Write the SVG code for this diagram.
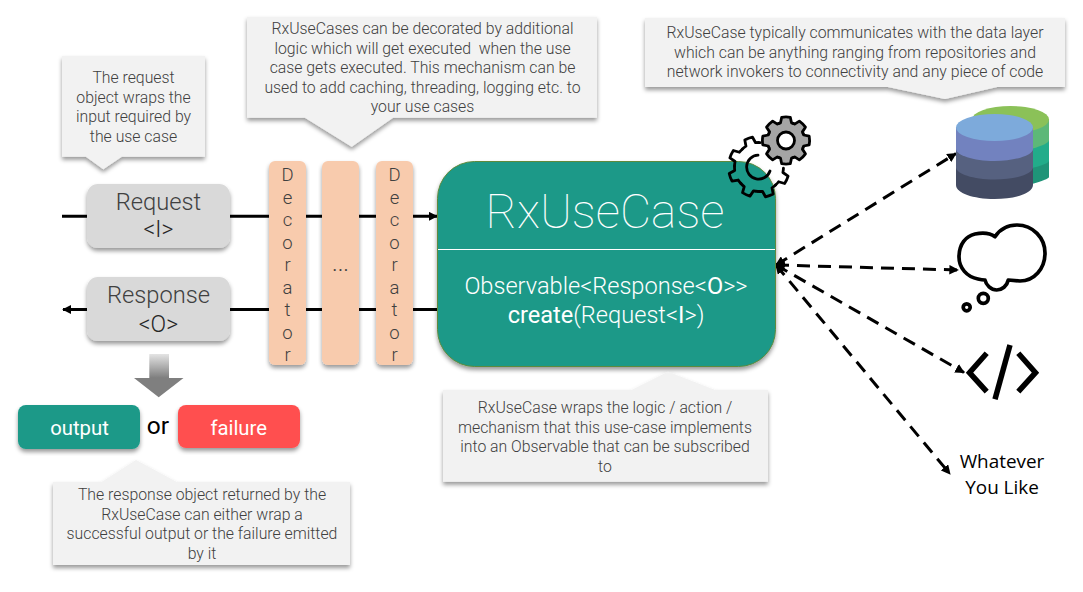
<svg xmlns="http://www.w3.org/2000/svg" width="1083" height="592" viewBox="0 0 1083 592">
<style>
text{font-family:Roboto,"Liberation Sans",sans-serif;font-weight:300;text-anchor:middle}
.note{fill:#f2f2f2;filter:url(#sh)}
.nt{font-size:15.800px;fill:#404040}
.line{stroke:#000;stroke-width:3;fill:none}
.dash{stroke:#000;stroke-width:3;fill:none;stroke-dasharray:13 8;marker-end:url(#ah);marker-start:url(#ahs)}
.msg{fill:#d9d9d9;filter:url(#sh)}
.dec{fill:#f8cbad;filter:url(#sh)}
.dt{font-size:18.5px;fill:#404040}
.bt{font-size:23.700px;fill:#404040}
.bs{font-size:23px;fill:#262626}
.os{font-family:"Open Sans",sans-serif;font-weight:400;fill:#000}
.g{fill:none;stroke:#000;stroke-width:2.800;stroke-linejoin:round;stroke-linecap:round}
</style>
<defs>
<filter id="sh" x="-10%" y="-10%" width="120%" height="125%"><feDropShadow dx="0" dy="3" stdDeviation="2" flood-color="#000" flood-opacity=".4"/></filter>
<marker id="ah" viewBox="0 0 10 10" refX="9" refY="5" markerWidth="3.200" markerHeight="3.200" orient="auto"><path d="M0 0L10 5L0 10Z" fill="#000"/></marker>
<marker id="ahs" viewBox="0 0 10 10" refX="1" refY="5" markerWidth="3.200" markerHeight="3.200" orient="auto"><path d="M10 0L0 5L10 10Z" fill="#000"/></marker>
<marker id="sa" viewBox="0 0 10 10" refX="9" refY="5" markerWidth="3" markerHeight="3" orient="auto"><path d="M0 0L10 5L0 10Z" fill="#000"/></marker>
<linearGradient id="ag" x1="0" y1="0" x2="0" y2="1"><stop offset="0" stop-color="#e4e4e4"/><stop offset=".55" stop-color="#7f7f7f"/><stop offset="1" stop-color="#7f7f7f"/></linearGradient>
<path id="ts1" d="M-7.100 -17.100A18.500 18.500 0 0 1 -5.500 -17.700L-4.300 -23.200A24 24 0 0 1 4.300 -23.200L5.500 -17.700A18.500 18.500 0 0 1 7.100 -17.100"/>
<path id="ts2" d="M-9.400 -22.600A24.500 24.500 0 0 1 -5.100 -24L-4.100 -30.200A30.500 30.500 0 0 1 4.100 -30.200L5.100 -24A24.500 24.500 0 0 1 9.400 -22.600"/>
</defs>
<g id="connectors">
<path class="line" d="M62 216.300H87M230 216.300H269M306 216.300H322M359 216.300H376M413 216.300H437" marker-end="url(#sa)"/>
<path class="line" d="M87 309.500H63" marker-end="url(#sa)"/>
<path class="line" d="M230 309.500H269M306 309.500H322M359 309.500H376M413 309.500H437"/>
<path class="dash" d="M776 265L956 153.500"/>
<path class="dash" d="M776 265L958 270"/>
<path class="dash" d="M776 265L964 372.500"/>
<path class="dash" d="M776 265L950 474"/>
</g>
<g id="note-request"><path class="note" d="M62 56H205V156.700H121.700L103.300 169.300L86 156.700H62Z"/>
<text class="nt"><tspan x="133.500" y="83">The request</tspan><tspan x="133.500" y="102.500">object wraps the</tspan><tspan x="133.500" y="122">input required by</tspan><tspan x="133.500" y="141.500">the use case</tspan></text></g>
<g id="note-decorators"><path class="note" d="M247 16.700H597V117.700H393L351.700 146.700L305 117.700H247Z"/>
<text class="nt"><tspan x="422.500" y="34">RxUseCases can be decorated by additional</tspan><tspan x="422.500" y="53.500" style="white-space:pre">logic which will get executed  when the use</tspan><tspan x="422.500" y="73">case gets executed. This mechanism can be</tspan><tspan x="422.500" y="92.500">used to add caching, threading, logging etc. to</tspan><tspan x="422.500" y="112">your use cases</tspan></text></g>
<g id="note-data"><path class="note" d="M645 18H1065V87H997L945 99L888 87H645Z"/>
<text class="nt"><tspan x="855" y="38">RxUseCase typically communicates with the data layer</tspan><tspan x="855" y="57.500">which can be anything ranging from repositories and</tspan><tspan x="855" y="77">network invokers to connectivity and any piece of code</tspan></text></g>
<g id="request"><rect class="msg" x="87" y="184" width="143" height="64" rx="11"/>
<text class="bt" x="158.500" y="210">Request</text><text class="bs" x="158.500" y="237">&lt;I&gt;</text></g>
<g id="response"><rect class="msg" x="87" y="277" width="143" height="64" rx="11"/>
<text class="bt" x="158.500" y="302.500">Response</text><text class="bs" x="158.500" y="331.500">&lt;O&gt;</text></g>
<g id="decorator-1"><rect class="dec" x="269" y="161" width="37" height="204" rx="6"/>
<text class="dt"><tspan x="287.500" y="181">D</tspan><tspan x="287.500" y="204">e</tspan><tspan x="287.500" y="226">c</tspan><tspan x="287.500" y="248.500">o</tspan><tspan x="287.500" y="271">r</tspan><tspan x="287.500" y="293.500">a</tspan><tspan x="287.500" y="316">t</tspan><tspan x="287.500" y="338.500">o</tspan><tspan x="287.500" y="361">r</tspan></text></g>
<g id="decorator-2"><rect class="dec" x="322" y="161" width="37" height="204" rx="6"/>
<text class="bt" x="340.500" y="271">...</text></g>
<g id="decorator-3"><rect class="dec" x="376" y="161" width="37" height="204" rx="6"/>
<text class="dt"><tspan x="394.500" y="181">D</tspan><tspan x="394.500" y="204">e</tspan><tspan x="394.500" y="226">c</tspan><tspan x="394.500" y="248.500">o</tspan><tspan x="394.500" y="271">r</tspan><tspan x="394.500" y="293.500">a</tspan><tspan x="394.500" y="316">t</tspan><tspan x="394.500" y="338.500">o</tspan><tspan x="394.500" y="361">r</tspan></text></g>
<g id="rxusecase"><rect x="437.500" y="161.500" width="338" height="205" rx="37" fill="#1a9988" stroke="#5f8a3c" filter="url(#sh)"/>
<path d="M438 249.500H775" stroke="#fff" fill="none"/>
<text x="605" y="228" font-size="48" fill="#fff" style="font-weight:100">RxUseCase</text>
<text x="606" y="293.500" font-size="23.600" fill="#fff">Observable&lt;Response&lt;<tspan style="font-weight:400">O</tspan>&gt;&gt;</text>
<text x="606" y="323" font-size="23.600" fill="#fff"><tspan style="font-weight:400">create</tspan>(Request&lt;<tspan style="font-weight:400">I</tspan>&gt;)</text></g>
<g id="note-rx"><path class="note" d="M443 390H631.700L668 371.700L715 390H768V481.700H443Z"/>
<text class="nt"><tspan x="605" y="413">RxUseCase wraps the logic / action /</tspan><tspan x="605" y="432.500">mechanism that this use-case implements</tspan><tspan x="605" y="452">into an Observable that can be subscribed</tspan><tspan x="605" y="471.500">to</tspan></text></g>
<g id="arrow-down"><path d="M149.300 354H169V378H183.500L158.700 397.300L134 378H149.300Z" fill="url(#ag)"/></g>
<g id="output"><rect x="18" y="405" width="122" height="44" rx="8" fill="#1a9988" filter="url(#sh)"/><text x="79.500" y="434.500" font-size="20.300" fill="#fff" style="font-weight:400">output</text></g>
<text x="158" y="433.500" font-size="24.500" fill="#000" style="font-weight:400">or</text>
<g id="failure"><rect x="178" y="405" width="122" height="43" rx="8" fill="#ff5050" filter="url(#sh)"/><text x="238.700" y="434.500" font-size="20.300" fill="#fff" style="font-weight:400">failure</text></g>
<g id="note-response"><path class="note" d="M53 482H101.700L136 460L176.700 482H350V565H53Z"/>
<text class="nt"><tspan x="202" y="500">The response object returned by the</tspan><tspan x="202" y="519.500">RxUseCase can either wrap a</tspan><tspan x="202" y="539">successful output or the failure emitted</tspan><tspan x="202" y="558.500">by it</tspan></text></g>
<g id="gears">
<g transform="translate(759 167)"><g class="g"><use href="#ts2" transform="rotate(115)"/><use href="#ts2" transform="rotate(160)"/><use href="#ts2" transform="rotate(205)"/><use href="#ts2" transform="rotate(250)"/><use href="#ts2" transform="rotate(295)"/><use href="#ts2" transform="rotate(340)"/><path d="M11 4A12 12 0 1 1 -1 -11.900"/></g></g>
<g transform="translate(786 140.500)"><circle r="18.500" fill="#a5a5a5"/><g class="g" style="fill:#a5a5a5"><use href="#ts1"/><use href="#ts1" transform="rotate(45)"/><use href="#ts1" transform="rotate(90)"/><use href="#ts1" transform="rotate(135)"/><use href="#ts1" transform="rotate(180)"/><use href="#ts1" transform="rotate(225)"/><use href="#ts1" transform="rotate(270)"/><use href="#ts1" transform="rotate(315)"/></g><circle r="8.500" fill="#fff" stroke="#000" stroke-width="2.800"/></g>
</g>
<g id="database">
<path d="M972 119V190H1000C1020 188 1049 180 1049 177V119Z" fill="#1f9478"/>
<path d="M972 119V172H1000C1020 172 1049 165 1049 160.700V119Z" fill="#22ac8a"/>
<path d="M972 119V155H1000C1020 152 1049 146 1049 140V119Z" fill="#5db878"/>
<ellipse cx="1010.500" cy="119.500" rx="38.500" ry="13.500" fill="#8bc158"/>
<path d="M956 127V185C956 193 973 199 994.500 199S1033 193 1033 185V127Z" fill="#434b63"/>
<path d="M956 127V167.300C956 174 973 179.500 994.500 179.500S1033 174 1033 167.300V127Z" fill="#566180"/>
<path d="M956 127V149C956 155 973 161 994.500 161S1033 155 1033 149V127Z" fill="#7282bf"/>
<ellipse cx="994.500" cy="127.500" rx="38.500" ry="13.500" fill="#7daadb"/>
</g>
<g id="thought" fill="none" stroke="#000" stroke-width="3.700" stroke-linejoin="round">
<path d="M995 236.700C1000 229 1008 225 1017 225C1033 225 1045 238 1045 253C1045 269 1034 281 1020 281L1008.300 280C1007 286 1002 290 996.700 290C991 290 986 285 985 280C982 280 980 279.500 978 279C967 277 959 268 959 257C959 244 966 236 975 234C982 232.500 990 233 995 236.700Z"/>
<circle cx="983.300" cy="298.300" r="5"/><circle cx="966.700" cy="307.300" r="3.500"/></g>
<g id="code" fill="none" stroke="#000" stroke-width="5.500" stroke-linejoin="miter">
<path d="M986.700 353.300L969.500 372.700L986.700 391.700"/><path d="M1010 345L995 399.300"/><path d="M1018.300 353.300L1035.500 372.700L1018.300 391.700"/></g>
<g id="whatever"><text class="os" x="1002" y="468" font-size="18.900">Whatever</text><text class="os" x="1002" y="494" font-size="18.900">You Like</text></g>
</svg>
